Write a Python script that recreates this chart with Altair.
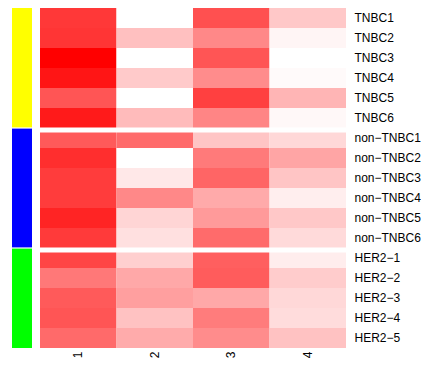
import altair as alt
import pandas as pd

rows = ["TNBC1", "TNBC2", "TNBC3", "TNBC4", "TNBC5", "TNBC6",
        "non−TNBC1", "non−TNBC2", "non−TNBC3", "non−TNBC4", "non−TNBC5", "non−TNBC6",
        "HER2−1", "HER2−2", "HER2−3", "HER2−4", "HER2−5"]
groups = ["TNBC"] * 6 + ["non-TNBC"] * 6 + ["HER2"] * 5
group_names = ["TNBC", "non-TNBC", "HER2"]
group_colors = ["#ffff00", "#0000ff", "#00ff00"]
columns = ["1", "2", "3", "4"]

# intensity (0 = white, 255 = full red)
col1 = [199, 202, 255, 234, 170, 229, 165, 209, 195, 195, 219, 197, 186, 135, 165, 170, 149]
col2 = [0, 63, 0, 53, 0, 68, 148, 0, 23, 119, 42, 31, 48, 87, 96, 61, 84]
col3 = [175, 119, 170, 115, 191, 122, 58, 133, 154, 85, 101, 148, 160, 163, 87, 131, 115]
col4 = [55, 10, 0, 5, 74, 7, 39, 90, 58, 17, 55, 37, 18, 51, 39, 35, 61]

first_rows = ["non−TNBC1", "HER2−1"]

records = []
for c, vals in zip(columns, [col1, col2, col3, col4]):
    for r, v in zip(rows, vals):
        records.append({"row": r, "col": c, "value": v})
df = pd.DataFrame(records)
df_rows = pd.DataFrame({"row": rows, "group": groups})
df_gap = pd.DataFrame({"row": first_rows})

H = 340
yscale = alt.Scale(paddingInner=0, paddingOuter=0)

bar = alt.Chart(df_rows).mark_rect(strokeWidth=0).encode(
    y=alt.Y("row:N", sort=rows, axis=None, scale=yscale),
    color=alt.Color("group:N", scale=alt.Scale(domain=group_names, range=group_colors), legend=None),
)
bar_gap = alt.Chart(df_gap).mark_rule(color="white", strokeWidth=1.2, clip=True).encode(
    y=alt.Y("row:N", sort=rows, bandPosition=0, scale=yscale, axis=None),
)
bar_chart = alt.layer(bar, bar_gap).properties(width=20, height=H)

heat = alt.Chart(df).mark_rect(strokeWidth=0).encode(
    x=alt.X("col:O", sort=columns, scale=alt.Scale(paddingInner=0, paddingOuter=0),
            axis=alt.Axis(title=None, orient="bottom", labelAngle=270, labelPadding=3,
                          ticks=False, domain=False, labelFontSize=12, labelColor="#000000",
                          labelFont="Liberation Sans")),
    y=alt.Y("row:N", sort=rows, scale=yscale,
            axis=alt.Axis(title=None, orient="right", ticks=False, domain=False,
                          labelPadding=8, labelFontSize=12, labelColor="#000000",
                          labelFont="Liberation Sans")),
    color=alt.Color("value:Q", scale=alt.Scale(domain=[0, 255], range=["#ffffff", "#ff0000"],
                                               interpolate="rgb"), legend=None),
)
heat_gap = alt.Chart(df_gap).mark_rule(color="white", strokeWidth=5, yOffset=2, clip=True).encode(
    y=alt.Y("row:N", sort=rows, bandPosition=0, scale=yscale),
)
heat_chart = alt.layer(heat, heat_gap).properties(width=306, height=H)

chart = alt.hconcat(bar_chart, heat_chart, spacing=8).resolve_scale(
    color="independent"
).properties(
    padding={"left": 4, "top": 0, "right": 0, "bottom": 0}
).configure_view(stroke=None)

chart.save("out.html", embed_options={"renderer": "svg", "actions": False})
